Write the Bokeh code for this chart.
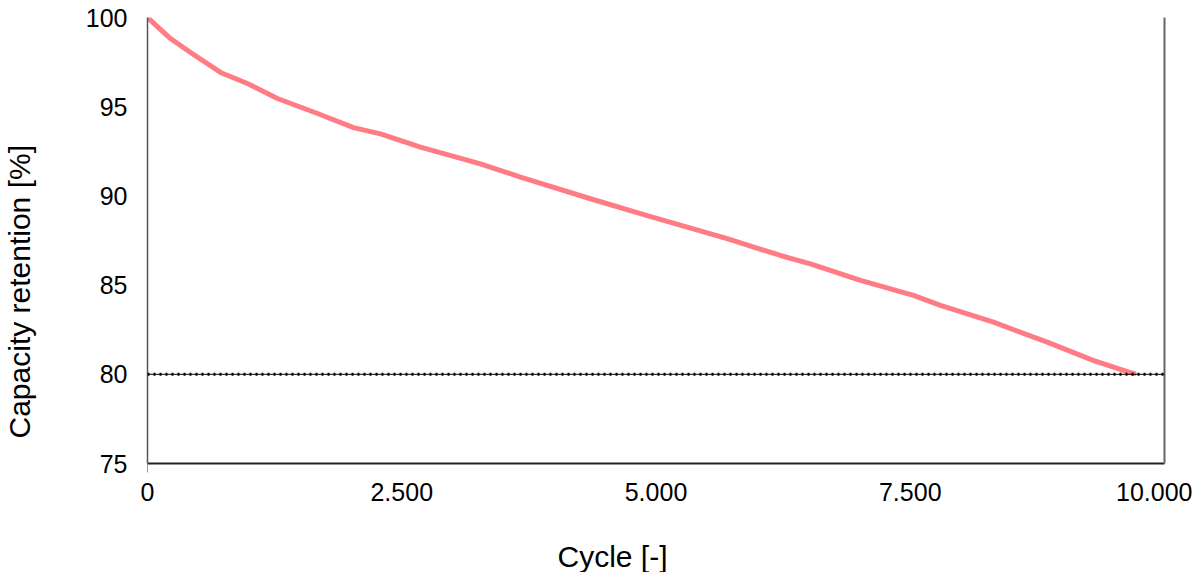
from bokeh.plotting import figure
from bokeh.models import Range1d, FixedTicker, LinearAxis, Span, Title
from bokeh.embed import file_html
from bokeh.resources import INLINE

# ---- data ----
cycles = [0, 226, 423, 718, 983, 1278, 1672, 2026, 2291, 2684, 3274, 3668,
          4356, 4914, 5700, 6224, 6519, 7011, 7532, 7797, 8319, 8847, 9305, 9649, 9700]
retention = [100.0, 98.82, 98.04, 96.92, 96.30, 95.46, 94.62, 93.83, 93.48, 92.73,
             91.80, 91.05, 89.84, 88.90, 87.60, 86.66, 86.19, 85.26, 84.42, 83.86,
             82.92, 81.80, 80.77, 80.12, 80.05]
threshold = 80
x_ticks = [0, 2500, 5000, 7500, 10000]
x_tick_labels = ["0", "2.500", "5.000", "7.500", "10.000"]
y_ticks = [75, 80, 85, 90, 95, 100]
x_label = "Cycle [-]"
y_label = "Capacity retention [%]"

FONT = "Liberation Sans"

p = figure(width=1192, height=572, output_backend="svg", toolbar_location=None,
           x_range=Range1d(0, 10000), y_range=Range1d(75, 100),
           min_border_left=147, min_border_right=28, min_border_top=17,
           min_border_bottom=109)
p.outline_line_color = None
p.grid.visible = False
p.background_fill_color = "white"

# x axis
xa = p.xaxis[0]
xa.ticker = FixedTicker(ticks=x_ticks, minor_ticks=[0])
xa.major_label_overrides = {t: l for t, l in zip(x_ticks, x_tick_labels)}
xa.major_tick_out = 0
xa.major_tick_in = 0
xa.minor_tick_out = 9
xa.minor_tick_in = 0
xa.minor_tick_line_color = "#9a9a9a"
xa.axis_line_color = "#222222"
xa.axis_line_width = 2
xa.major_label_standoff = 10
xa.major_label_text_font = FONT
xa.major_label_text_font_size = "25px"
xa.major_label_text_color = "black"

# y axis
ya = p.yaxis[0]
ya.ticker = FixedTicker(ticks=y_ticks)
ya.major_tick_out = 0
ya.major_tick_in = 0
ya.minor_tick_out = 0
ya.minor_tick_in = 0
ya.axis_line_color = "#555555"
ya.axis_line_width = 1.5
ya.major_label_standoff = 20
ya.major_label_text_font = FONT
ya.major_label_text_font_size = "25px"
ya.major_label_text_color = "black"

# right border line
ra = LinearAxis(ticker=FixedTicker(ticks=[]), major_tick_out=0, major_tick_in=0,
                minor_tick_out=0, minor_tick_in=0, major_label_text_font_size="0px",
                axis_line_color="#666666", axis_line_width=2)
p.add_layout(ra, "right")


def spacer(size, tick):
    # an invisible axis (white tick, no label, no line) that only reserves space
    return LinearAxis(ticker=FixedTicker(ticks=[tick], minor_ticks=[]),
                      major_label_overrides={tick: ""},
                      major_tick_out=size, major_tick_in=0,
                      minor_tick_out=0, minor_tick_in=0,
                      major_tick_line_color="white", major_tick_line_width=1,
                      major_label_standoff=0, major_label_text_color=None,
                      axis_line_color=None)


p.add_layout(spacer(34, 5000), "below")
p.add_layout(spacer(47, 87.5), "left")

# threshold line (thin solid + dots)
p.add_layout(Span(location=threshold, dimension="width", line_color="black",
                  line_width=1))
p.add_layout(Span(location=threshold, dimension="width", line_color="black",
                  line_width=3, line_dash="2 4"))

# curve
p.line(cycles, retention, line_color="#FF7C85", line_width=5, line_join="round",
       line_cap="round")

# axis titles as side-panel titles (allow offsets like the reference)
p.add_layout(Title(text=x_label, align="left", offset=410, standoff=0,
                   text_font=FONT, text_font_size="30px", text_font_style="normal",
                   text_color="black"), "below")
p.add_layout(Title(text=y_label, align="left", offset=25, standoff=0,
                   text_font=FONT, text_font_size="30px", text_font_style="normal",
                   text_color="black"), "left")

open("out.html", "w").write(file_html(p, INLINE))
